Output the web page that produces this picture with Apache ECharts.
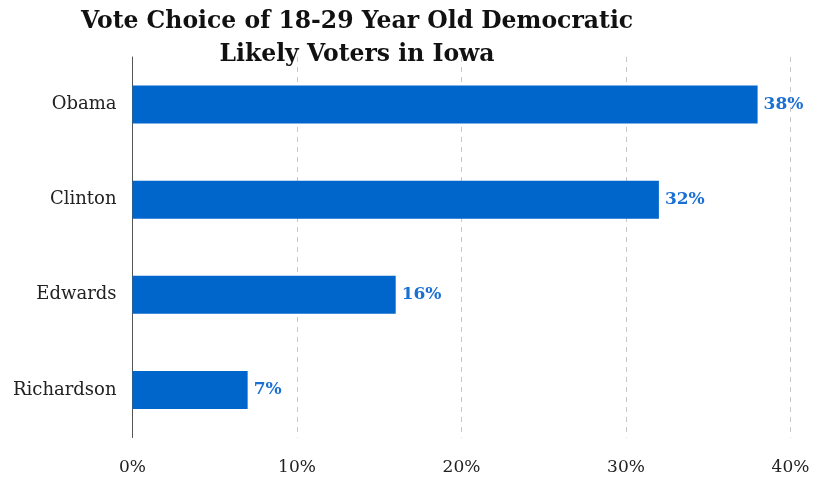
<!DOCTYPE html>
<html>
<head>
<meta charset="utf-8">
<script src="https://cdn.jsdelivr.net/npm/echarts@6/dist/echarts.min.js"></script>
<style>
  html, body { margin: 0; padding: 0; background: #fff; }
  #chart { width: 815px; height: 480px; }
</style>
</head>
<body>
<div id="chart"></div>
<script>
// Candidates listed top to bottom
const candidates = ['Obama', 'Clinton', 'Edwards', 'Richardson'];
// Share of vote (%)
const voteShare = [38, 32, 16, 7];
// Horizontal axis ticks (%)
const xTicks = [0, 10, 20, 30, 40];

const serif = '"DejaVu Serif", "Liberation Serif", serif';
const chart = echarts.init(document.getElementById('chart'));

chart.setOption({
  animation: false,
  backgroundColor: '#ffffff',
  title: {
    text: 'Vote Choice of 18-29 Year Old Democratic\nLikely Voters in Iowa',
    left: 352,
    top: 0,
    textAlign: 'center',
    textStyle: {
      fontFamily: serif,
      fontWeight: 'bold',
      fontSize: 23.5,
      lineHeight: 33,
      color: '#111'
    }
  },
  grid: { left: 132.5, right: 24.5, top: 57, bottom: 42.5, containLabel: false },
  xAxis: {
    type: 'value',
    min: xTicks[0],
    max: xTicks[xTicks.length - 1],
    interval: 10,
    axisLine: { show: false },
    axisTick: { show: false },
    axisLabel: {
      formatter: v => v + '%',
      fontFamily: serif,
      fontSize: 17,
      color: '#222',
      margin: 22
    },
    splitLine: {
      show: true,
      lineStyle: { color: '#c8c8c8', type: [5, 5], width: 1 }
    }
  },
  yAxis: {
    type: 'category',
    data: candidates,
    inverse: true,
    axisLine: { show: true, lineStyle: { color: '#555', width: 1 } },
    axisTick: { show: false },
    axisLabel: {
      fontFamily: serif,
      fontSize: 18,
      color: '#222',
      margin: 16
    }
  },
  series: [{
    type: 'bar',
    data: voteShare,
    barWidth: '40%',
    itemStyle: { color: '#0066cc' },
    label: {
      show: true,
      position: 'right',
      distance: 6,
      formatter: p => p.value + '%',
      fontFamily: serif,
      fontWeight: 'bold',
      fontSize: 17,
      color: '#1a6fd4'
    }
  }]
});
</script>
</body>
</html>
